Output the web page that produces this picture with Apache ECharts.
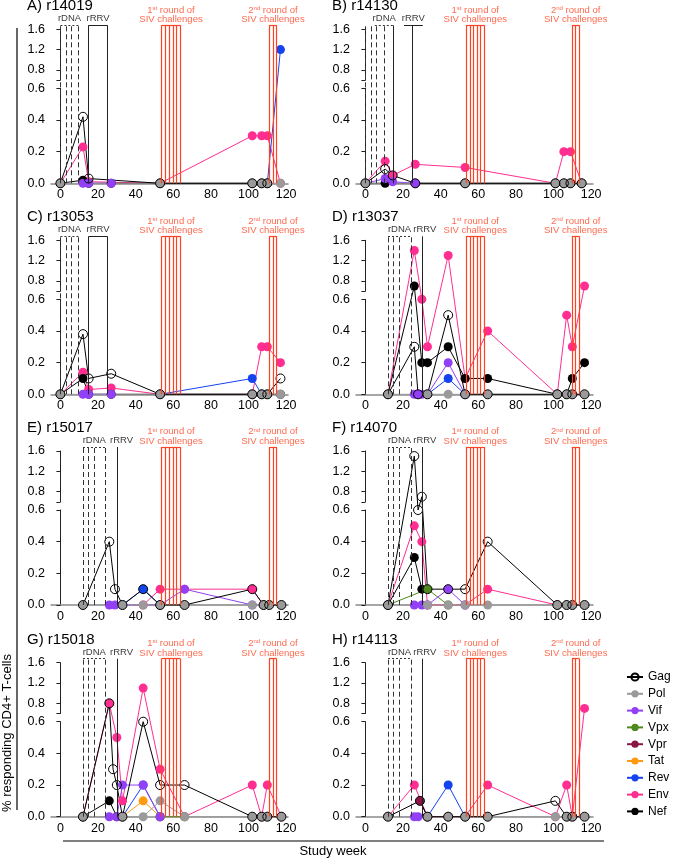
<!DOCTYPE html>
<html><head><meta charset="utf-8">
<script src="https://cdn.jsdelivr.net/npm/echarts@6/dist/echarts.min.js"></script>
<style>html,body{margin:0;padding:0;background:#fff}#c{width:675px;height:858px}</style>
</head><body><div id="c"></div>
<script>
// ---------- labels ----------
const antigens = ['Gag','Pol','Vif','Vpx','Vpr','Tat','Rev','Env','Nef'];
const drawOrder = ['Env','Nef','Rev','Tat','Vpr','Vpx','Vif','Pol','Gag'];
const panelTitles = ['A) r14019','B) r14130','C) r13053','D) r13037','E) r15017','F) r14070','G) r15018','H) r14113'];
const xTickLabels = [0,20,40,60,80,100,120];
const yLowTicks = [0,0.2,0.4,0.6];
const yUpTicks = [0.8,1.2,1.6];
const yTitle = '% responding CD4+ T-cells';
const xTitle = 'Study week';
const rdnaLabel = 'rDNA', rrvLabel = 'rRRV';
const sivLabels = [['1','st'],['2','nd']];

// ---------- schedule (study weeks of vertical lines) ----------
const rdnaEarly = [0,3,6,9.7], rrvEarly = [15,25];
const rdnaLate = [12,15,18,24], rrvLateL = [30], rrvLateR = [30.2];
const siv1L = [53.8,55.8,57.8,59.8,61.8,63.8], siv2L = [111,113,115];
const siv1R = [53.5,55.5,57.4,59.3,61.3,63.3], siv2R = [109.8,111.8,113.8];

// ---------- data: weeks and % responding per antigen ----------
// A) r14019
const weeksA = [0,12,15,27,53,102,107,110,117];
const gagA = [0,0.42,0.03,null,0,0,0,0,null];
const polA = [0,null,null,null,0,0,0,0,0];
const vifA = [null,0,0,0,null,null,null,null,null];
const revA = [null,null,null,null,null,null,null,0,1.2];
const envA = [0,0.23,0.01,null,0,0.3,0.3,0.3,0];
const nefA = [0,0.02,0,0,0,0,0,0,null];
// B) r14130
const weeksB = [0,10.5,14.5,26.5,53,101,105.5,109,115];
const gagB = [0,0.09,0.05,0,0,0,0,0,0];
const polB = [0,null,null,null,0,0,0,0,0];
const vifB = [0,0.03,0.01,0,null,null,null,null,null];
const envB = [0,0.14,0.05,0.12,0.1,0,0.2,0.2,0];
const nefB = [0,0,null,0,0,0,0,0,0];
// C) r13053
const weeksC = [0,12,15,27,53,102,107,110,117];
const gagC = [0,0.38,0.10,0.13,0,0,0,0,0.10];
const polC = [0,null,null,null,0,0,0,0,0];
const vifC = [null,0,0,0,null,null,null,null,null];
const revC = [null,null,null,null,0,0.1,0,null,null];
const envC = [0,0.14,0.03,0.04,0,0,0.3,0.3,0.2];
const nefC = [0,0.10,0,0,0,0,0,0,0];
// D) r13037
const weeksD = [12,26,28,30,33,44,53,65,102,107,110,116.5];
const gagD = [0,0.3,0,null,0,0.5,0,0,0,0,0,0];
const polD = [0,null,null,null,0,0,0,0,0,0,0,0];
const vifD = [null,0,0,0,0,0.2,0,null,null,null,null,null];
const revD = [null,null,null,null,0,0.1,0,null,null,null,null,null];
const envD = [0,1.4,null,0.6,0.3,1.3,0.1,0.4,0,0.5,0.3,0.7];
const nefD = [0,0.7,null,0.2,0.2,0.3,0.1,0.1,0,0,0.1,0.2];
// E) r15017
const weeksE = [12,26,29,33,44,53,66,102,108,111,117.5];
const gagE = [0,0.4,0.1,0,0.1,0,0,0.1,0,0,0];
const polE = [0,null,null,0,0,0,0,0,0,0,0];
const vifE = [null,0,0,null,null,0,0.1,0,null,null,null];
const revE = [null,null,null,0,0.1,0,null,null,null,null,null];
const envE = [null,null,null,null,0,0.1,0.1,0.1,0,null,null];
// F) r14070
const weeksF = [12,26,28,30,33,44,53,65,102,107,110,116.5];
const gagF = [0,1.5,0.6,0.7,0.1,0.1,0.1,0.4,0,0,0,0];
const polF = [0,null,null,null,0,0,0,0,0,0,0,0];
const vifF = [null,0,null,0,0,0.1,0,null,null,null,null,null];
const vpxF = [0,null,null,null,0.1,0,null,null,null,null,null,null];
const envF = [0,0.5,null,0.4,0,null,0,0.1,0,null,null,null];
const nefF = [0,0.3,null,0.1,null,null,null,null,null,null,null,null];
// G) r15018
const weeksG = [12,26,28,30,33,44,53,66,102,107,110,117.5];
const gagG = [0,0.8,0.3,0.2,0,0.6,0.2,0.2,0,0,0,0];
const polG = [0,null,null,null,0,0,0.1,0,0,0,0,0];
const vifG = [null,0,null,0,0.2,0.2,0,null,null,null,null,null];
const vpxG = [null,null,null,null,null,null,0,0,null,null,null,null];
const tatG = [null,null,null,null,0,0.1,0,null,null,null,null,null];
const revG = [null,null,null,null,0,0.2,0,null,null,null,null,null];
const envG = [0,0.8,null,0.5,0.1,1.1,0.3,0,0.2,0,0.2,0];
const nefG = [0,0.1,null,0,null,null,null,null,null,null,null,null];
// H) r14113
const weeksH = [12,26,28,29,33,44,53,65,101,107,110,116.5];
const gagH = [0,null,null,0.1,0,0,0,0,0.1,0,0,0];
const polH = [0,null,null,null,0,0,0,0,0,0,0,0];
const vifH = [null,0,0,null,null,null,null,null,null,null,null,null];
const vprH = [null,null,null,0.1,0,null,null,null,null,null,null,null];
const revH = [null,null,null,null,0,0.2,0,null,null,null,null,null];
const envH = [0,0.2,null,null,0,0,0,0.2,0,0.2,0,0.7];

// ---------- styling ----------
const colors = {Gag:'#000000',Pol:'#9a9a9a',Vif:'#9140f5',Vpx:'#4c8a1c',Vpr:'#8a1646',Tat:'#ff9a10',Rev:'#1443f0',Env:'#ff2e90',Nef:'#000000'};
const RED = '#ff4322';
const FONT = 'Liberation Sans';

const panels = [
 {weeks:weeksA, s:{Gag:gagA,Pol:polA,Vif:vifA,Rev:revA,Env:envA,Nef:nefA}, rdna:rdnaEarly, rrv:rrvEarly, rdnaBr:[0,9.7], rrvBr:[15,25], rrvLab:20, siv1:siv1L, siv2:siv2L},
 {weeks:weeksB, s:{Gag:gagB,Pol:polB,Vif:vifB,Env:envB,Nef:nefB}, rdna:[0,3,6,10], rrv:rrvEarly, rdnaBr:[5,15], rrvBr:[20.5,30.5], rrvLab:25.5, siv1:siv1R, siv2:siv2R},
 {weeks:weeksC, s:{Gag:gagC,Pol:polC,Vif:vifC,Rev:revC,Env:envC,Nef:nefC}, rdna:rdnaEarly, rrv:rrvEarly, rdnaBr:[0,9.7], rrvBr:[15,25], rrvLab:20, siv1:siv1L, siv2:siv2L},
 {weeks:weeksD, s:{Gag:gagD,Pol:polD,Vif:vifD,Rev:revD,Env:envD,Nef:nefD}, rdna:[12,15,18,24.3], rrv:rrvLateR, rdnaBr:[12,24.3], rrvBr:null, rrvLab:31.6, siv1:siv1R, siv2:siv2R},
 {weeks:weeksE, s:{Gag:gagE,Pol:polE,Vif:vifE,Rev:revE,Env:envE}, rdna:rdnaLate, rrv:rrvLateL, rdnaBr:[12,24], rrvBr:null, rrvLab:32.5, siv1:siv1L, siv2:siv2L},
 {weeks:weeksF, s:{Gag:gagF,Pol:polF,Vif:vifF,Vpx:vpxF,Env:envF,Nef:nefF}, rdna:[12,15,18,24.3], rrv:rrvLateR, rdnaBr:[12,24.3], rrvBr:null, rrvLab:31.6, siv1:siv1R, siv2:siv2R},
 {weeks:weeksG, s:{Gag:gagG,Pol:polG,Vif:vifG,Vpx:vpxG,Tat:tatG,Rev:revG,Env:envG,Nef:nefG}, rdna:rdnaLate, rrv:rrvLateL, rdnaBr:[12,24], rrvBr:null, rrvLab:32.5, siv1:siv1L, siv2:siv2L},
 {weeks:weeksH, s:{Gag:gagH,Pol:polH,Vif:vifH,Vpr:vprH,Rev:revH,Env:envH}, rdna:[12,15,18,24.3], rrv:rrvLateR, rdnaBr:[12,24.3], rrvBr:null, rrvLab:31.6, siv1:siv1R, siv2:siv2R}
];

// ---------- layout ----------
const W = 237, LEFTS = [51,356], ZERO = [183.3,394.3,605,816.7];
const LOW_H = 95, GAP = 8.2, UP_PX = 50.8, S = LOW_H/0.6;
const TOP_PX = 160, BR_PX = 158;
const XMIN = -5, XMAX = 121;
function disp(v){ return v <= 0.6 ? v : (LOW_H + GAP + (v - 0.6) * UP_PX) / S; }
const yTop = BR_PX / S;

const grid=[], xAxis=[], yAxis=[], series=[], title=[];
panels.forEach((p, i) => {
  const col = i % 2, row = Math.floor(i / 2);
  const L = LEFTS[col], Z = ZERO[row];
  const g0 = grid.length;
  grid.push({left:L, top:Z-TOP_PX, width:W, height:TOP_PX});
  grid.push({left:L, top:Z-LOW_H, width:W, height:LOW_H});
  grid.push({left:L, top:Z-(LOW_H+GAP+UP_PX), width:W, height:UP_PX});
  xAxis.push({type:'value', gridIndex:g0, min:XMIN, max:XMAX,
    axisLine:{lineStyle:{color:'#8a8a8a', width:1.5}}, axisTick:{show:false}, splitLine:{show:false},
    axisLabel:{customValues:xTickLabels, color:'#000', fontSize:12.5, fontFamily:FONT, margin:5}});
  xAxis.push({type:'value', gridIndex:g0+1, min:XMIN, max:XMAX, show:false});
  xAxis.push({type:'value', gridIndex:g0+2, min:XMIN, max:XMAX, show:false});
  yAxis.push({type:'value', gridIndex:g0, min:0, max:TOP_PX/S, show:false});
  const yLine = {show:true, lineStyle:{color:'#222', width:1}};
  yAxis.push({type:'value', gridIndex:g0+1, min:0, max:0.6, axisLine:yLine, splitLine:{show:false},
    axisTick:{show:true, length:4, customValues:yLowTicks, lineStyle:{color:'#222'}},
    axisLabel:{customValues:yLowTicks, formatter:v=>v.toFixed(1), color:'#000', fontSize:12.5, fontFamily:FONT, margin:6}});
  yAxis.push({type:'value', gridIndex:g0+2, min:0.6, max:1.6, axisLine:yLine, splitLine:{show:false},
    axisTick:{show:true, length:4, customValues:[0.6].concat(yUpTicks), lineStyle:{color:'#222'}},
    axisLabel:{customValues:yUpTicks, formatter:v=>v.toFixed(1), color:'#000', fontSize:12.5, fontFamily:FONT, margin:6}});

  title.push({text:panelTitles[i], left:L-24, top:Z-184.5, padding:0, textStyle:{fontSize:15, fontWeight:'normal', color:'#000', fontFamily:FONT}});

  // vertical schedule lines + brackets
  const ml = [];
  p.rdna.forEach(w => ml.push([{coord:[w,0], lineStyle:{color:'#333', type:[5,3], width:1}}, {coord:[w,yTop]}]));
  p.rrv.forEach(w => ml.push([{coord:[w,0], lineStyle:{color:'#222', type:'solid', width:1}}, {coord:[w,yTop]}]));
  p.siv1.concat(p.siv2).forEach(w => ml.push([{coord:[w,0], lineStyle:{color:RED, type:'solid', width:1.2}}, {coord:[w,yTop]}]));
  ml.push([{coord:[p.rdnaBr[0],yTop], lineStyle:{color:'#333', type:[2,2], width:1}}, {coord:[p.rdnaBr[1],yTop]}]);
  if (p.rrvBr) ml.push([{coord:[p.rrvBr[0],yTop], lineStyle:{color:'#222', type:'solid', width:1}}, {coord:[p.rrvBr[1],yTop]}]);
  [p.siv1, p.siv2].forEach(a => ml.push([{coord:[a[0],yTop], lineStyle:{color:RED, type:'solid', width:1.2}}, {coord:[a[a.length-1],yTop]}]));

  const mid = a => (a[0] + a[a.length-1]) / 2;
  const sivText = k => '{t|'+sivLabels[k][0]+'}{s|'+sivLabels[k][1]+'}{t| round of}\n{t|SIV challenges}';
  const labs = [
    {value:[mid(p.rdnaBr), yTop], label:{formatter:rdnaLabel}},
    {value:[p.rrvLab, yTop], label:{formatter:rrvLabel}},
    {value:[mid(p.siv1), yTop], label:{formatter:sivText(0), distance:1}},
    {value:[mid(p.siv2), yTop], label:{formatter:sivText(1), distance:1}}
  ];
  series.push({type:'scatter', name:'_decor'+i, xAxisIndex:g0, yAxisIndex:g0, symbolSize:0, silent:true, z:1,
    data:labs,
    label:{show:true, position:'top', distance:1.5, fontSize:9.5, color:'#000', fontFamily:FONT,
      rich:{t:{fontSize:9.5, color:RED, fontFamily:FONT, lineHeight:9.5}, s:{fontSize:6, color:RED, fontFamily:FONT, lineHeight:9.5, verticalAlign:'top'}}},
    markLine:{silent:true, symbol:['none','none'], label:{show:false}, animation:false, data:ml}});

  drawOrder.forEach(name => {
    const vals = p.s[name];
    if (!vals) return;
    const data = [];
    p.weeks.forEach((w, k) => { if (vals[k] != null) data.push([w, disp(vals[k])]); });
    const isGag = name === 'Gag';
    series.push({type:'line', name:name, xAxisIndex:g0, yAxisIndex:g0, data:data, clip:false,
      symbol:'circle', symbolSize:9, showSymbol:true,
      lineStyle:{color:colors[name], width:1},
      itemStyle: isGag ? {color:'rgba(255,255,255,0)', borderColor:'#000', borderWidth:1} : {color:colors[name], borderWidth:0},
      z:3});
  });
});

const option = {
  animation:false,
  backgroundColor:'#fff',
  textStyle:{fontFamily:FONT},
  title:title, grid:grid, xAxis:xAxis, yAxis:yAxis, series:series,
  legend:{data:antigens, orient:'vertical', left:621, top:666, itemWidth:16, itemHeight:9, itemGap:4.8,
    textStyle:{fontSize:12, color:'#000', fontFamily:FONT, lineHeight:12}},
  graphic:[
    {type:'line', shape:{x1:17,y1:28,x2:17,y2:810}, style:{stroke:'#000', lineWidth:1.2}, silent:true},
    {type:'line', shape:{x1:63,y1:841,x2:604,y2:841}, style:{stroke:'#000', lineWidth:1.2}, silent:true},
    {type:'text', x:7, y:733, rotation:Math.PI/2, style:{text:yTitle, fontSize:13, fontFamily:FONT, fill:'#000', textAlign:'center', textVerticalAlign:'middle'}},
    {type:'text', x:333, y:851, style:{text:xTitle, fontSize:13, fontFamily:FONT, fill:'#000', textAlign:'center', textVerticalAlign:'middle'}}
  ]
};
const chart = echarts.init(document.getElementById('c'), null, {renderer:'canvas'});
chart.setOption(option);
</script></body></html>
